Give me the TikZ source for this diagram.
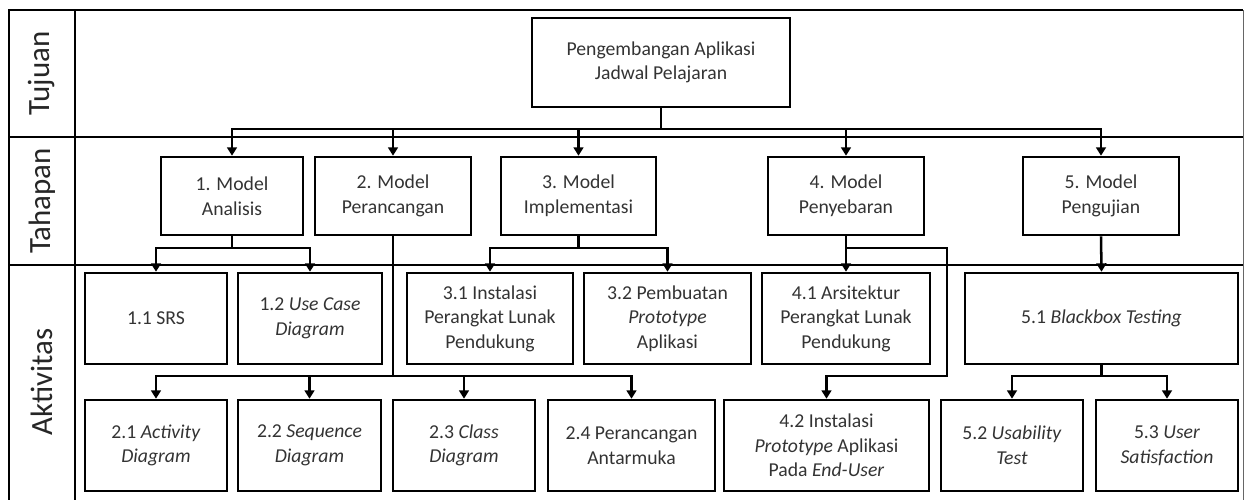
\documentclass[tikz,border=0pt]{standalone}
\usepackage{fontspec}
\setmainfont{Carlito}
\usetikzlibrary{arrows.meta}

\tikzset{
  kotak/.style 2 args={draw, line width=1.8pt, align=center, inner sep=0pt,
    minimum width=#1*0.025cm, minimum height=#2*0.025cm,
    font=\fontsize{14}{17.5}\selectfont, text=black!80},
  label/.style={rotate=90, font=\fontsize{22}{26}\selectfont, text=black!85},
  garis/.style={line width=1.8pt},
  panah/.style={line width=1.8pt, -{Triangle[length=6pt,width=7pt]}},
  bingkai/.style={line width=1.5pt}
}

\begin{document}
\begin{tikzpicture}[x=0.025cm, y=-0.025cm]
    \useasboundingbox (0,0) rectangle (1244,500);

    % bingkai
    \draw[bingkai] (1243,504) -- (9,504) -- (9,10) -- (1243,10);
    \draw[line width=0.6pt, black!60] (1243,10) -- (1243,504);
    \draw[bingkai] (9,137) -- (1243,137);
    \draw[bingkai] (9,265) -- (1243,265);
    \draw[bingkai] (75,10) -- (75,504);

    \node[label] (ltujuan) at (42,73.5) {Tujuan};
    \node[label] (ltahapan) at (42,201) {Tahapan};
    \node[label] (laktivitas) at (42,382) {Aktivitas};

    % level garis
    \coordinate (lvA) at (0,129);
    \coordinate (lvB) at (0,248);
    \coordinate (lvC) at (0,376);
    \coordinate (belok) at (947,248);

    % tujuan
    \node[kotak={258}{89}] (tujuan) at (661,62.5) {Pengembangan Aplikasi\\Jadwal Pelajaran};

    % tahapan
    \node[kotak={142}{78}] (m1) at (232,196) {1. Model\\Analisis};
    \node[kotak={156}{78}] (m2) at (393,196) {2. Model\\Perancangan};
    \node[kotak={155}{78}] (m3) at (578.5,196) {3. Model\\Implementasi};
    \node[kotak={156}{78}] (m4) at (846,196) {4. Model\\Penyebaran};
    \node[kotak={156}{78}] (m5) at (1101,196) {5. Model\\Pengujian};

    % aktivitas
    \node[kotak={142}{91}] (a11) at (156,318.5) {1.1 SRS};
    \node[kotak={144}{91}] (a12) at (310,318.5) {1.2 \textit{Use Case}\\\textit{Diagram}};
    \node[kotak={166}{91}] (a31) at (490,318.5) {3.1 Instalasi\\Perangkat Lunak\\Pendukung};
    \node[kotak={167}{91}] (a32) at (667.5,318.5) {3.2 Pembuatan\\\textit{Prototype}\\Aplikasi};
    \node[kotak={168}{91}] (a41) at (846,318.5) {4.1 Arsitektur\\Perangkat Lunak\\Pendukung};
    \node[kotak={273}{91}] (a51) at (1101.5,318.5) {5.1 \textit{Blackbox Testing}};

    \node[kotak={142}{91}] (a21) at (156,445.5) {2.1 \textit{Activity}\\\textit{Diagram}};
    \node[kotak={143}{91}] (a22) at (309.5,445.5) {2.2 \textit{Sequence}\\\textit{Diagram}};
    \node[kotak={142}{91}] (a23) at (464,445.5) {2.3 \textit{Class}\\\textit{Diagram}};
    \node[kotak={167}{91}] (a24) at (631.5,445.5) {2.4 Perancangan\\Antarmuka};
    \node[kotak={205}{91}] (a42) at (826.5,445.5) {4.2 Instalasi\\\textit{Prototype} Aplikasi\\Pada \textit{End-User}};
    \node[kotak={142}{91}] (a52) at (1012,445.5) {5.2 \textit{Usability}\\\textit{Test}};
    \node[kotak={142}{91}] (a53) at (1167,445.5) {5.3 \textit{User}\\\textit{Satisfaction}};

    % panah
    \foreach \x in {m1,m2,m3,m4,m5}
      \draw[panah] (tujuan.south) -- (tujuan.south |- lvA) -| (\x.north);
    \foreach \x in {a11,a12}
      \draw[panah] (m1.south) -- (m1.south |- lvB) -| (\x.north);
    \foreach \x in {a21,a22,a23,a24}
      \draw[panah] (m2.south) -- (m2.south |- lvC) -| (\x.north);
    \foreach \x in {a31,a32}
      \draw[panah] (m3.south) -- (m3.south |- lvB) -| (\x.north);
    \draw[panah] (m4.south) -- (a41.north);
    \draw[panah] (m4.south) |- (belok) -- (belok |- lvC) -| (a42.north);
    \draw[panah] (m5.south) -- (a51.north);
    \foreach \x in {a52,a53}
      \draw[panah] (a51.south) -- (a51.south |- lvC) -| (\x.north);
\end{tikzpicture}
\end{document}
